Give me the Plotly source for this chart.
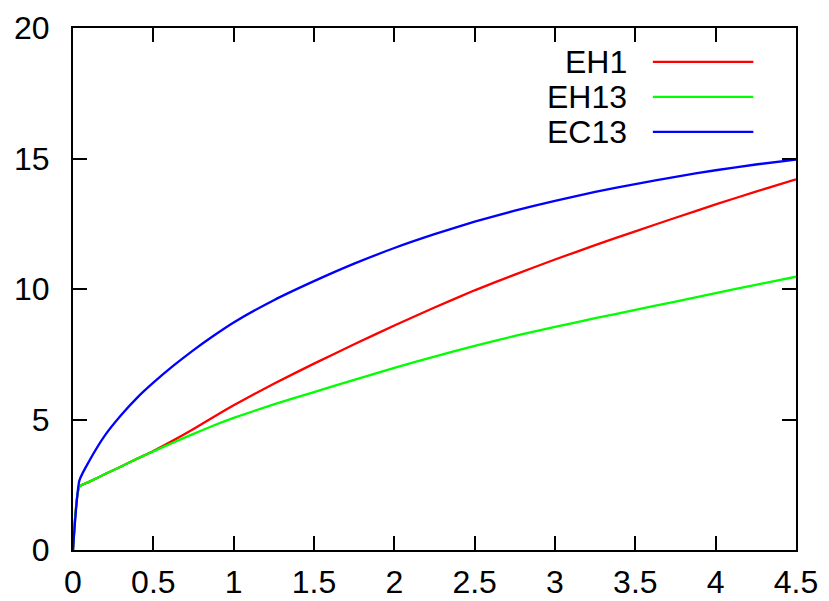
import plotly.graph_objects as go

# Sampled curves
x = [0, 0.04, 0.1, 0.2, 0.3, 0.4, 0.5, 0.625, 0.75, 0.875, 1.0,
     1.25, 1.5, 1.75, 2.0, 2.25, 2.5, 2.75, 3.0, 3.25, 3.5, 3.75, 4.0,
     4.25, 4.5]

eh1 = [0, 2.43, 2.61, 2.91, 3.2, 3.5, 3.79, 4.2, 4.64, 5.1,
       5.55, 6.37, 7.14, 7.88, 8.6, 9.29, 9.95, 10.55, 11.13, 11.68, 12.21,
       12.73, 13.24, 13.73, 14.2]
eh13 = [0, 2.43, 2.61, 2.91, 3.2, 3.5, 3.78, 4.12, 4.45, 4.77,
        5.06, 5.58, 6.05, 6.52, 6.98, 7.41, 7.82, 8.2, 8.55, 8.88, 9.2,
        9.52, 9.84, 10.16, 10.47]
ec13 = [0, 2.67, 3.4, 4.4, 5.17, 5.84, 6.41, 7.06, 7.66, 8.21,
        8.72, 9.57, 10.3, 10.97, 11.57, 12.1, 12.58, 13.0, 13.38, 13.72,
        14.02, 14.3, 14.55, 14.77, 14.96]

names = ["EH1", "EH13", "EC13"]
series = [eh1, eh13, ec13]
colors = ["#ff0000", "#00ff00", "#0000ff"]

x_ticks = [0, 0.5, 1, 1.5, 2, 2.5, 3, 3.5, 4, 4.5]
x_tick_text = ["0", "0.5", "1", "1.5", "2", "2.5", "3", "3.5", "4", "4.5"]
y_ticks = [0, 5, 10, 15, 20]

FONT = "Liberation Sans, Arial, sans-serif"

fig = go.Figure()
for name, ys, col in zip(names, series, colors):
    fig.add_trace(go.Scatter(x=x, y=ys, mode="lines", name=name,
                             line=dict(color=col, width=2.3,
                                       shape="spline", smoothing=0.5),
                             showlegend=False))

# Key: right-aligned labels followed by a line sample
key_y = [0.935, 0.868, 0.801]
for name, col, ky in zip(names, colors, key_y):
    fig.add_annotation(x=0.7685, y=ky, xref="paper", yref="paper",
                       text=name, showarrow=False, xanchor="right",
                       yanchor="middle",
                       font=dict(family=FONT, size=32, color="black"))
    fig.add_shape(type="line", xref="paper", yref="paper",
                  x0=0.802, x1=0.941, y0=ky, y1=ky,
                  line=dict(color=col, width=2.3))

axis_common = dict(showline=True, linecolor="black", linewidth=2,
                   mirror="ticks", ticks="inside", ticklen=14,
                   tickwidth=2, tickcolor="black", showgrid=False,
                   zeroline=False, automargin=False,
                   tickfont=dict(family=FONT, size=32, color="black"))

fig.update_xaxes(range=[0, 4.5], tickvals=x_ticks, ticktext=x_tick_text,
                 ticklabelstandoff=3, **axis_common)
fig.update_yaxes(range=[0, 20], tickvals=y_ticks, ticklabelstandoff=15,
                 **axis_common)

fig.update_layout(width=829, height=601,
                  margin=dict(l=73, r=33, t=28, b=51),
                  paper_bgcolor="white", plot_bgcolor="white",
                  font=dict(family=FONT, size=32, color="black"))

fig.write_html("out.html")
